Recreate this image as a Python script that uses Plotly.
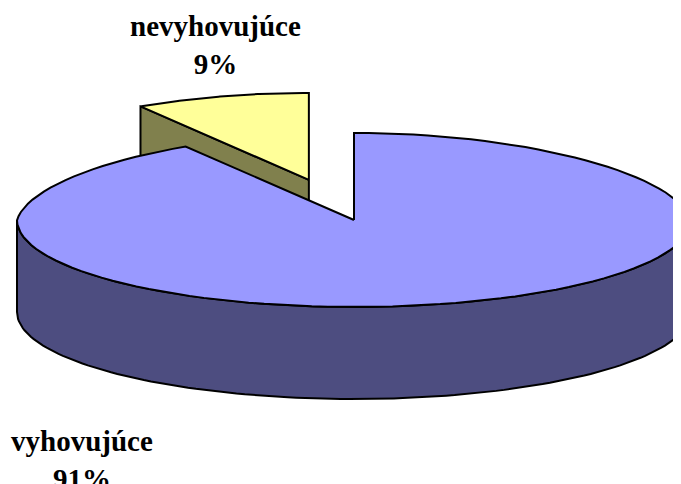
import numpy as np
import plotly.graph_objects as go

# data
labels = ["vyhovujúce", "nevyhovujúce"]
shares = [91, 9]
top_colors = ["#9999FF", "#FFFF99"]
side_colors = ["#4D4D80", "#80804D"]

# pie geometry (page pixels)
cx, cy = 354, 220
rx, ry = 337, 87
depth = 92
explode = [0.0, 0.48]
persp = 0.08  # back half of the disc is drawn a bit narrower
pad = 8  # default body margin of the html page


def pt(theta, ox=0.0, oy=0.0, dz=0.0):
    # theta in degrees, clockwise from 12 o'clock
    t = np.radians(theta)
    shrink = 1 - persp * np.clip(np.cos(t), 0, None)
    return cx + ox + rx * np.sin(t) * shrink, cy + oy - ry * np.cos(t) + dz


def arc(a0, a1, ox=0.0, oy=0.0, dz=0.0, n=120):
    th = np.linspace(a0, a1, n)
    xs, ys = pt(th, ox, oy, dz)
    return list(xs), list(ys)


total = sum(shares)
starts, ends = [], []
acc = 0.0
for v in shares:
    starts.append(acc / total * 360)
    acc += v
    ends.append(acc / total * 360)

fig = go.Figure()


def poly(xs, ys, color):
    fig.add_trace(go.Scatter(
        x=xs + [xs[0]], y=ys + [ys[0]], mode="lines", fill="toself",
        fillcolor=color, line=dict(color="black", width=2),
        hoverinfo="skip", showlegend=False, cliponaxis=False))


# small (exploded) slice first, it sits behind
i = 1
mid = np.radians((starts[i] + ends[i]) / 2)
ox = explode[i] * rx * np.sin(mid)
oy = -explode[i] * ry * np.cos(mid)
vx, vy = cx + ox, cy + oy
ex, ey = pt(starts[i], ox, oy)
# cut face facing the viewer
poly([vx, ex, ex, vx], [vy, ey, ey + depth, vy + depth], side_colors[i])
ax_, ay_ = arc(starts[i], ends[i], ox, oy)
poly([vx] + ax_, [vy] + ay_, top_colors[i])

# big slice: front side wall then top face
i = 0
fx, fy = arc(90, 270)
bx, by = arc(270, 90, dz=depth)
poly(fx + bx, fy + by, side_colors[i])
ax_, ay_ = arc(starts[i], ends[i])
poly([cx] + ax_, [cy] + ay_, top_colors[i])

font = dict(family="Times New Roman, Liberation Serif, serif", size=29, color="black")
fig.add_annotation(x=215, y=45, text=f"<b>{labels[1]}<br>{shares[1]}%</b>",
                   showarrow=False, font=font, align="center",
                   xanchor="center", yanchor="middle")
fig.add_annotation(x=82, y=460, text=f"<b>{labels[0]}<br>{shares[0]}%</b>",
                   showarrow=False, font=font, align="center",
                   xanchor="center", yanchor="middle")

fig.update_layout(
    width=681 - pad, height=484 - pad,
    margin=dict(l=0, r=0, t=0, b=0),
    paper_bgcolor="white", plot_bgcolor="white",
    xaxis=dict(range=[pad, 681], visible=False, fixedrange=True),
    yaxis=dict(range=[484, pad], visible=False, fixedrange=True),
)

fig.write_html("out.html")
